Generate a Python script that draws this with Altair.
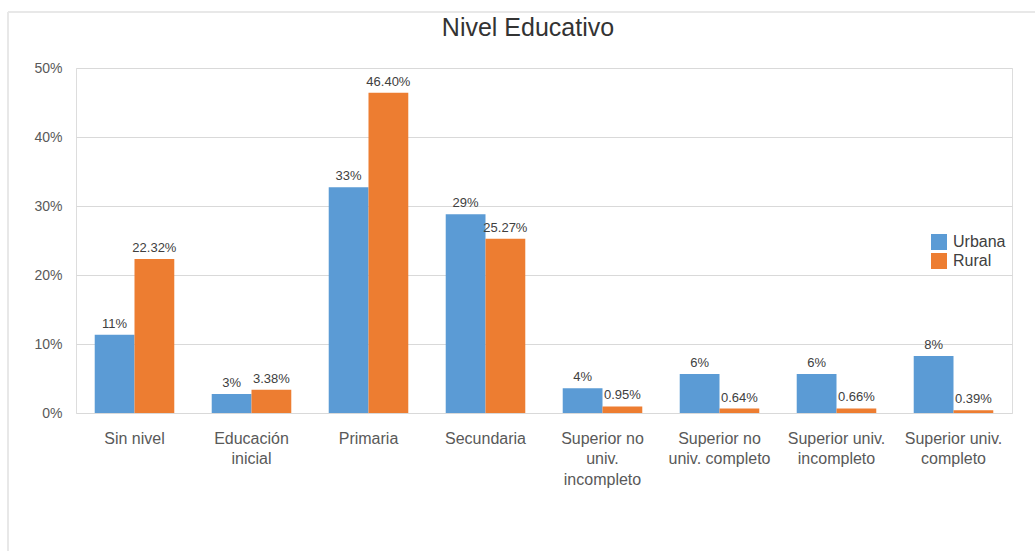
import altair as alt
import pandas as pd

title_text = "Nivel Educativo"
categories = ["Sin nivel", "Educación|inicial", "Primaria", "Secundaria",
              "Superior no|univ.|incompleto", "Superior no|univ. completo",
              "Superior univ.|incompleto", "Superior univ.|completo"]
urbana = [11.35, 2.75, 32.7, 28.8, 3.6, 5.65, 5.65, 8.26]
rural = [22.32, 3.38, 46.40, 25.27, 0.95, 0.64, 0.66, 0.39]
series = ["Urbana", "Rural"]
colors = ["#5B9BD5", "#ED7D31"]

rows = []
for c, u, r in zip(categories, urbana, rural):
    rows.append({"cat": c, "serie": "Urbana", "v": u})
    rows.append({"cat": c, "serie": "Rural", "v": r})
df = pd.DataFrame(rows)

FONT = "Liberation Sans"

base = alt.Chart(df).encode(
    x=alt.X("cat:N", sort=categories, title=None,
            scale=alt.Scale(paddingInner=0.32, paddingOuter=0.16),
            axis=alt.Axis(labelExpr="split(datum.value, '|')", labelAngle=0,
                          labelFontSize=16, labelColor="#595959", labelFont=FONT,
                          labelPadding=25, labelLineHeight=20.5, domain=False,
                          ticks=False, grid=False, labelBaseline="middle")),
    xOffset=alt.XOffset("serie:N", sort=series),
)

bars = base.mark_bar().encode(
    y=alt.Y("v:Q", title=None,
            scale=alt.Scale(domain=[0, 50], nice=False),
            axis=alt.Axis(values=[0, 10, 20, 30, 40, 50],
                          labelExpr="datum.value + '%'",
                          labelFontSize=14, labelColor="#595959", labelFont=FONT,
                          labelPadding=14, domain=False, ticks=False,
                          gridColor="#d9d9d9", gridWidth=1)),
    color=alt.Color("serie:N", sort=series,
                    scale=alt.Scale(domain=series, range=colors),
                    legend=alt.Legend(title=None, orient="none", legendX=855,
                                      legendY=166, symbolType="square",
                                      symbolSize=256, symbolStrokeWidth=0,
                                      labelFontSize=16, labelFont=FONT,
                                      labelColor="#404040", rowPadding=3,
                                      labelOffset=6)),
)

text = base.transform_calculate(
    lab="datum.serie == 'Urbana' ? format(datum.v / 100, '.0%') : format(datum.v / 100, '.2%')"
).mark_text(baseline="bottom", dy=-4, fontSize=13, font=FONT, color="#404040").encode(
    y=alt.Y("v:Q"),
    text="lab:N",
)

one = alt.Chart(pd.DataFrame({"k": [0]}))
frame_top = one.mark_rule(color="#e8e8e8", strokeWidth=2, clip=False).encode(
    x=alt.value(-68), x2=alt.value(959), y=alt.value(-56))
frame_left = one.mark_rule(color="#e8e8e8", strokeWidth=2, clip=False).encode(
    x=alt.value(-68), y=alt.value(-56), y2=alt.value(483))
title = one.mark_text(fontSize=25, font=FONT, color="#333333", align="center",
                      baseline="middle").encode(
    x=alt.value(452), y=alt.value(-40), text=alt.value(title_text))

chart = alt.layer(frame_top, frame_left, bars, text, title).properties(
    width=936, height=345,
    autosize=alt.AutoSizeParams(type="none"),
    padding={"left": 76, "top": 68, "right": 23, "bottom": 138},
).configure_view(strokeWidth=0).configure(background="white")

chart.save("out.html", embed_options={"renderer": "svg", "actions": False})
